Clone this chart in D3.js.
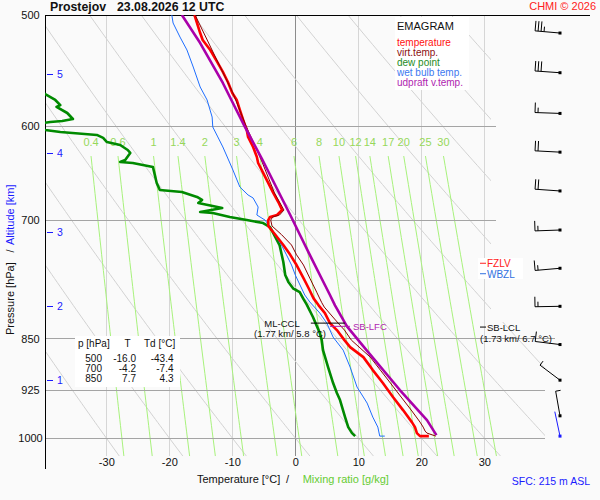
<!DOCTYPE html>
<html><head><meta charset="utf-8">
<script src="https://cdn.jsdelivr.net/npm/d3@7"></script>
<style>
html,body{margin:0;padding:0;background:#fafafa;}
svg{display:block;font-family:"Liberation Sans",Arial,Helvetica,sans-serif;}
</style></head><body>
<svg id="c" width="600" height="500"></svg>
<script>
// ---------------- data ----------------
const pressTicks = [500, 600, 700, 850, 925, 1000];
const tempTicks = [-30, -20, -10, 0, 10, 20, 30];
const altKm = [1, 2, 3, 4, 5];
const altP = [910, 806, 714, 627, 551];
const mixRatios = [0.4, 0.6, 1, 1.4, 2, 3, 4, 6, 8, 10, 12, 14, 17, 20, 25, 30];
const adiabatThetas = [-30,-20,-10,0,10,20,30,40,50,60,70,80,90,100,110,120,130,140,150];

const tempP = [500,506.6,515,520.9,529.5,540,548.9,558,568.2,574.7,584.2,598.8,603.7,610.6,620.7,631,637.2,647.7,658.4,669.3,679.3,688.3,693.9,696.2,699.7,706.5,716.5,728.9,740.7,753.2,769.5,782.1,795.5,804.6,814.9,828.4,837.9,851.8,861.6,875.9,894.7,913.9,935.1,955.3,974.3,982.3,992,996.9,996.9];
const tempT = [-16.0,-15.6,-15.1,-14.7,-13.5,-12.4,-11.5,-10.7,-10.0,-9.3,-8.8,-8.0,-7.7,-7.5,-6.7,-6.1,-5.9,-5.1,-4.3,-3.5,-2.7,-2.1,-2.9,-4.0,-4.3,-4.3,-3.2,-1.9,-0.8,0.2,1.3,2.1,2.9,3.7,4.7,5.5,6.6,7.8,8.7,10.8,12.3,13.9,15.5,17.1,18.5,19.0,19.3,19.8,21.2];

const virtP = [500,540,568.2,600,634.1,669.3,688.3,693.9,696.2,699.7,706.5,716.5,728.9,740.7,753.2,769.5,787.5,801.1,806.9,828.4,837.9,851.8,875.9,894.7,913.9,935.1,955.3,974.3,982.3,988.7,992,996.9];
const virtT = [-15.9,-12.3,-9.9,-7.8,-5.4,-3.3,-1.8,-2.5,-3.6,-3.9,-3.7,-2.2,-0.6,0.2,1.3,2.3,3.4,4.2,4.6,6.8,7.8,8.9,11.9,13.5,15.1,16.8,18.4,19.8,20.3,20.6,20.9,22.3];

const dewP = [500,540,565,569.1,574.7,579.5,581.3,587.1,592.9,594.9,595.8,599,603.7,605.7,608.6,611.6,615.7,618.7,623.8,626.8,634.1,636.2,637.2,641.4,649.9,658.4,666,668.2,673.7,677,680.4,686,690.5,691.7,696.2,699.7,703.1,707.8,728.9,749.5,765.6,774.3,783,787.5,796.5,803.4,820.2,842.1,851.8,866,890.3,913.9,929,939.7,966.3,982.3,992,996.9];
const dewT = [-43.4,-46,-42,-39.7,-38.1,-37.3,-37.9,-36.2,-35.3,-37.0,-38.9,-42.5,-39.7,-37.3,-31.5,-30.5,-29.9,-27.8,-26.6,-26.2,-27.0,-27.8,-25.8,-22.6,-22.3,-22.0,-21.5,-18.0,-15.6,-14.8,-15.4,-11.6,-15.1,-13.1,-10.4,-7.7,-5.1,-4.0,-2.5,-1.9,-1.6,-1.1,-0.3,0.7,1.3,1.8,2.8,3.9,4.2,4.4,5.2,6.0,6.6,7.1,7.9,8.4,9.0,9.5];

const wetP = [500,506.6,518.4,529.5,544.5,562.6,574.7,591,600.7,610.6,620.7,631,644.6,662.8,671.5,674.8,684.9,693.9,696.2,699.7,709.9,728.9,740.7,753.2,765.6,778.3,791.1,800.2,814.9,828.4,847.6,865.9,890.3,919.9,944.4,966.3,982.3,996.9,996.9];
const wetT = [-19.6,-19.4,-18.3,-17.2,-16.2,-15.1,-14.0,-13.2,-13.1,-12.3,-11.5,-10.8,-9.9,-8.8,-7.5,-6.7,-5.9,-6.1,-5.6,-4.8,-3.8,-2.2,-1.4,-0.6,0.0,0.75,1.5,2.3,3.9,5.0,6.0,7.6,8.7,9.8,11.4,12.3,13.1,13.4,14.2];

const updP = [500,523.5,558.9,600.7,632.8,693.9,717.0,740.7,765.6,791.1,804.6,832.8,865.9,924.4,971.1,995.3];
const updT = [-18.0,-15.1,-11.5,-8.0,-5.3,-0.8,0.75,2.3,3.9,5.5,6.3,8.2,11.3,16.6,20.9,22.4];

const barbP = [515,549.6,587.5,626,667.1,711.2,757.2,805.9,858,909.6,964.3];
const barbDir = [275,274,272,273,274,268,265,269,277,307,350];
const barbSpd = [35,30,15,20,20,15,15,15,10,5,5];
const sfcP = 996.9, sfcDir = 348, sfcSpd = 0;

const legendLabels = ['temperature','virt.temp.','dew point','wet bulb temp.','udpraft v.temp.'];
const legendColors = ['#ff1010','#8b1010','#1e8c1e','#3c78f0','#b01eb0'];

const tableP = ['500','700','850'];
const tableT = ['-16.0','-4.2','7.7'];
const tableTd = ['-43.4','-7.4','4.3'];

// ---------------- scales ----------------
const svg = d3.select('#c');
const x = d3.scaleLinear().domain([-40, 40]).range([43.3, 547.3]);
const y = d3.scaleLog().domain([500, 1000]).range([15, 438]);
const zip = (P, T) => P.map((p, i) => ({p: p, t: T[i]}));
const line = d3.line().x(d => x(d.t)).y(d => y(d.p));

const defs = svg.append('defs');
defs.append('clipPath').attr('id','plotClip').append('rect')
  .attr('x',45).attr('y',15).attr('width',500).attr('height',445);
defs.append('clipPath').attr('id','adiaClip').append('path')
  .attr('d','M45,15 L491,15 L491,322 L545,322 L545,457 L45,457 Z');

const grid = svg.append('g');

// isotherms
grid.selectAll('.iso').data(tempTicks).enter().append('line')
  .attr('x1', d => x(d)).attr('x2', d => x(d)).attr('y1', 15).attr('y2', 456)
  .attr('stroke', d => d === 0 ? '#8c8c8c' : '#d6d6d6').attr('stroke-width', 1)
  .attr('shape-rendering','crispEdges');

// dry adiabats
const adP = d3.range(500, 1031, 5);
grid.append('g').attr('clip-path','url(#adiaClip)').selectAll('path').data(adiabatThetas).enter().append('path')
  .attr('d', th => line(adP.map(p => ({p: p, t: (th + 273.15) * Math.pow(p / 1000, 0.2857) - 273.15}))))
  .attr('fill','none').attr('stroke','#d2d2d2').attr('stroke-width',1);

// mixing ratio lines
function tdFromW(w, p) { const e = w * p / (622 + w); const L = Math.log(e / 6.112); return 243.5 * L / (17.67 - L); }
const mrP = d3.range(630, 1031, 10);
const mg = grid.append('g').attr('clip-path','url(#plotClip)');
mg.selectAll('path').data(mixRatios).enter().append('path')
  .attr('d', w => line(mrP.map(p => ({p: p, t: tdFromW(w, p)}))))
  .attr('fill','none').attr('stroke','#a8f27c').attr('stroke-width',1);
grid.selectAll('.mrl').data(mixRatios).enter().append('text')
  .attr('x', w => x(tdFromW(w, 630))).attr('y', 146)
  .attr('text-anchor','middle').attr('font-size', 11).attr('fill','#96d85a')
  .text(w => String(w));

// pressure lines
const pEnd = {500: 590, 600: 496, 700: 496, 850: 555, 925: 545, 1000: 545};
grid.selectAll('.pl').data(pressTicks.filter(p => p !== 500)).enter().append('line')
  .attr('x1', 45).attr('x2', p => pEnd[p]).attr('y1', p => y(p)).attr('y2', p => y(p))
  .attr('stroke','#a4a4a4').attr('stroke-width',1).attr('shape-rendering','crispEdges');

// boxes
svg.append('rect').attr('x',395).attr('y',17).attr('width',74).attr('height',73).attr('fill','#fff');
svg.append('rect').attr('x',75).attr('y',336).attr('width',105).attr('height',51).attr('fill','#fff');
svg.append('rect').attr('x',478).attr('y',258).attr('width',45).attr('height',21).attr('fill','#fff');

// frame
svg.append('line').attr('x1',45).attr('x2',590).attr('y1',15).attr('y2',15).attr('stroke','#000').attr('shape-rendering','crispEdges');
svg.append('line').attr('x1',45).attr('x2',45).attr('y1',15).attr('y2',469).attr('stroke','#000').attr('shape-rendering','crispEdges');

// axes
const xAxis = svg.append('g').attr('transform','translate(0,456)')
  .call(d3.axisBottom(x).tickValues(tempTicks).tickSize(0).tickPadding(2).tickFormat(d => String(d)));
xAxis.select('.domain').remove();
xAxis.selectAll('text').attr('font-size', 11).attr('font-family','"Liberation Sans",Arial,sans-serif').attr('fill','#111');

const yAxis = svg.append('g').attr('transform','translate(45,0)')
  .call(d3.axisLeft(y).tickValues(pressTicks).tickSize(0).tickFormat(d => String(d)));
yAxis.select('.domain').remove();
yAxis.selectAll('text').attr('x', -14.5).attr('text-anchor','middle').attr('font-size', 11)
  .attr('font-family','"Liberation Sans",Arial,sans-serif').attr('fill','#111');

// altitude ticks
const ag = svg.append('g');
altKm.forEach((k, i) => {
  ag.append('line').attr('x1',47).attr('x2',53).attr('y1',y(altP[i])).attr('y2',y(altP[i]))
    .attr('stroke','#1a1aff').attr('stroke-width',1).attr('shape-rendering','crispEdges');
  ag.append('text').attr('x',57).attr('y',y(altP[i])).attr('dy','0.36em').attr('font-size',10.5)
    .attr('fill','#1a1aff').text(k);
});

// data lines
const dg = svg.append('g').attr('clip-path','url(#plotClip)');
function drawSeries(P, T, color, w) {
  dg.append('path').datum(zip(P, T)).attr('d', line).attr('fill','none')
    .attr('stroke', color).attr('stroke-width', w).attr('stroke-linejoin','round');
}
drawSeries(dewP, dewT, '#008a00', 2.6);
drawSeries(wetP, wetT, '#1e6eff', 1);
drawSeries(tempP, tempT, '#ff0000', 2.6);
drawSeries(virtP, virtT, '#8b0000', 1);
drawSeries(updP, updT, '#aa00aa', 2.6);

// annotations
const ccl = {p: 828.4, t: 5.8};
svg.append('line').attr('x1', x(ccl.t) - 21).attr('x2', x(ccl.t) + 13).attr('y1', y(ccl.p)).attr('y2', y(ccl.p)).attr('stroke','#000');
svg.append('text').attr('x', 282).attr('y', y(ccl.p) + 3.5).attr('text-anchor','middle').attr('font-size',9.5).attr('fill','#111').text('ML-CCL');
svg.append('text').attr('x', 290).attr('y', y(ccl.p) + 14).attr('text-anchor','middle').attr('font-size',9.5).attr('fill','#111').text('(1.77 km/ 5.8 °C)');
const lfc = {p: 832.8, t: 8.2};
svg.append('line').attr('x1', x(lfc.t) - 17).attr('x2', x(lfc.t) + 3).attr('y1', y(lfc.p)).attr('y2', y(lfc.p)).attr('stroke','#b01eb0');
svg.append('text').attr('x', x(lfc.t) + 6).attr('y', y(lfc.p) + 4).attr('font-size',9.5).attr('fill','#b01eb0').text('SB-LFC');
const lclP = 833.8;
svg.append('line').attr('x1',480).attr('x2',486).attr('y1',y(lclP)).attr('y2',y(lclP)).attr('stroke','#000');
svg.append('text').attr('x',487).attr('y',y(lclP)+4).attr('font-size',9.5).attr('fill','#111').text('SB-LCL');
svg.append('text').attr('x',516).attr('y',y(lclP)+15).attr('text-anchor','middle').attr('font-size',9.5).attr('fill','#111').text('(1.73 km/ 6.7 °C)');
const fzP = 751, wbP = 764;
svg.append('line').attr('x1',480).attr('x2',486).attr('y1',y(fzP)).attr('y2',y(fzP)).attr('stroke','#ff2020');
svg.append('text').attr('x',487).attr('y',y(fzP)+4).attr('font-size',10).attr('fill','#ff2020').text('FZLV');
svg.append('line').attr('x1',480).attr('x2',486).attr('y1',y(wbP)).attr('y2',y(wbP)).attr('stroke','#3070e0');
svg.append('text').attr('x',487).attr('y',y(wbP)+4).attr('font-size',10).attr('fill','#3070e0').text('WBZL');

// legend
svg.append('text').attr('x',397).attr('y',30).attr('font-size',11).attr('fill','#111').text('EMAGRAM');
legendLabels.forEach((l, i) => {
  svg.append('text').attr('x',397).attr('y',45.5 + i * 10).attr('font-size',10).attr('fill',legendColors[i]).text(l);
});

// table
const tg = svg.append('g').attr('font-size',10).attr('fill','#111');
tg.append('text').attr('x',78).attr('y',347).text('p [hPa]');
tg.append('text').attr('x',127.5).attr('y',347).attr('text-anchor','middle').text('T');
tg.append('text').attr('x',144).attr('y',347).text('Td [°C]');
tableP.forEach((p, i) => {
  const yy = 362 + i * 10;
  tg.append('text').attr('x',102).attr('y',yy).attr('text-anchor','end').text(p);
  tg.append('text').attr('x',136).attr('y',yy).attr('text-anchor','end').text(tableT[i]);
  tg.append('text').attr('x',173.5).attr('y',yy).attr('text-anchor','end').text(tableTd[i]);
});

// wind barbs
function barb(cy, dir, spd, color) {
  const cx = 560, L = 25;
  const r = dir * Math.PI / 180, ux = Math.sin(r), uy = -Math.cos(r);
  const px = -uy, py = ux;
  const g = svg.append('g').attr('stroke', color).attr('fill', color);
  const tx = cx + ux * L, ty = cy + uy * L;
  g.append('line').attr('x1',cx).attr('y1',cy).attr('x2',tx).attr('y2',ty).attr('stroke-width',1);
  let rem = Math.round(spd / 5) * 5, k = 0;
  while (rem >= 10) {
    const bx = tx - ux * k * 3, by = ty - uy * k * 3;
    g.append('line').attr('x1',bx).attr('y1',by).attr('x2',bx + px * 10).attr('y2',by + py * 10).attr('stroke-width',1);
    rem -= 10; k++;
  }
  if (rem >= 5) {
    const bx = tx - ux * k * 3, by = ty - uy * k * 3;
    g.append('line').attr('x1',bx).attr('y1',by).attr('x2',bx + px * 5).attr('y2',by + py * 5).attr('stroke-width',1);
  }
  g.append('rect').attr('x',cx - 1.5).attr('y',cy - 1.5).attr('width',3).attr('height',3).attr('stroke','none');
}
barbP.forEach((p, i) => barb(y(p), barbDir[i], barbSpd[i], '#000'));
barb(y(sfcP), sfcDir, sfcSpd, '#1a1aff');

// titles
svg.append('text').attr('x',50).attr('y',11).attr('font-size',12.3).attr('font-weight','bold').attr('fill','#111').text('Prostejov');
svg.append('text').attr('x',117).attr('y',11).attr('font-size',12.3).attr('font-weight','bold').attr('fill','#111').text('23.08.2026 12 UTC');
svg.append('text').attr('x',596).attr('y',10).attr('text-anchor','end').attr('font-size',11).attr('fill','#ff2020').text('CHMI © 2026');
svg.append('text').attr('x',197).attr('y',483).attr('font-size',11).attr('fill','#111').text('Temperature [°C]');
svg.append('text').attr('x',286).attr('y',483).attr('font-size',11).attr('fill','#111').text('/');
svg.append('text').attr('x',302.7).attr('y',483).attr('font-size',11).attr('fill','#66cc33').text('Mixing ratio [g/kg]');
svg.append('text').attr('x',590).attr('y',485).attr('text-anchor','end').attr('font-size',10.5).attr('fill','#1a1aff').text('SFC: 215 m ASL');
svg.append('text').attr('transform','translate(14,335) rotate(-90)').attr('font-size',11).attr('fill','#111').text('Pressure [hPa]');
svg.append('text').attr('transform','translate(14,251) rotate(-90)').attr('text-anchor','middle').attr('font-size',11).attr('fill','#111').text('/');
svg.append('text').attr('transform','translate(14,245) rotate(-90)').attr('font-size',11).attr('fill','#1a1aff').text('Altitude [km]');
</script>
</body></html>
